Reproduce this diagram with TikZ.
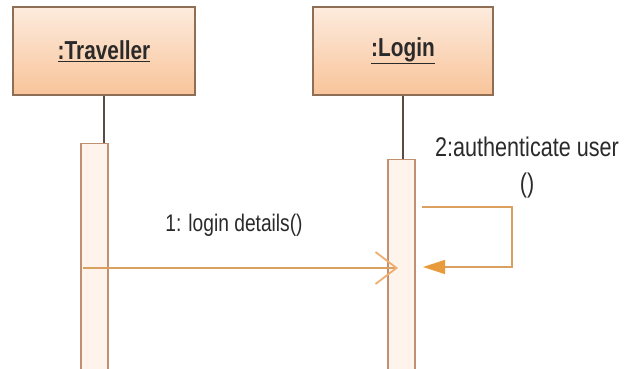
\documentclass[tikz,border=0pt]{standalone}
\usepackage{fontspec}
\setmainfont{Liberation Sans}[FakeStretch=0.8]
\usetikzlibrary{arrows.meta}
\definecolor{boxtop}{HTML}{FDEBDD}
\definecolor{boxbot}{HTML}{F8C49A}
\definecolor{boxline}{HTML}{8E6E55}
\definecolor{barfill}{HTML}{FEF4EC}
\definecolor{barline}{HTML}{C09070}
\definecolor{lifeline}{HTML}{5B4A3E}
\definecolor{msgline}{HTML}{D9A060}
\definecolor{arrowlite}{HTML}{EFAE6E}
\definecolor{arrowfill}{HTML}{E99B3C}
\definecolor{txt}{HTML}{2A2A2A}

\begin{document}
\begin{tikzpicture}[x=1pt,y=-1pt]
\tikzset{ObjStyle/.style =
	{draw = boxline,
		line width = 1.2pt,
		top color = boxtop,
		bottom color = boxbot,
		minimum width = 182pt,
		minimum height = 88pt,
		text = txt,
		font = \fontsize{26}{30}\selectfont\bfseries},
	BarStyle/.style = {draw = barline, fill = barfill, line width = 1.2pt,
		minimum width = 27pt, minimum height = 240pt, anchor = north},
	LifeStyle/.style = {draw = lifeline, line width = 1.2pt},
	MsgStyle/.style = {draw = msgline, line width = 1.3pt},
	LblStyle/.style = {text = txt, inner sep = 0pt}}
\useasboundingbox (0,0) rectangle (634,369);
% objects
\node[ObjStyle] (T) at (104,51) {\underline{:Traveller}};
\node[ObjStyle, minimum width = 180pt] (L) at (403,51) {\underline{:Login}};
% activations
\node[BarStyle] (TA) at (94.5,143) {};
\node[BarStyle] (LA) at (401.5,159) {};
\draw[LifeStyle] (T.south) -- (T.south |- TA.north);
\draw[LifeStyle] (L.south) -- (L.south |- LA.north);
% messages
\coordinate (M1s) at (83,268);
\coordinate (M1e) at (398,268);
\draw[MsgStyle, -{Straight Barb[length = 21pt, width = 32pt, line width = 1.8pt, color = arrowlite]}]
	(M1s) -- (M1e);
\node[LblStyle, font = \fontsize{24}{28}\selectfont] (M1) at (234,225) {1: login details()};
\coordinate (M2s) at (422,207);
\coordinate (M2e) at (423,267);
\draw[MsgStyle, -{Triangle[length = 22pt, width = 14pt, color = arrowfill]}]
	(M2s) -- ++(90,0) |- (M2e);
\node[LblStyle, align = center, font = \fontsize{27}{36}\selectfont, anchor = north]
	(M2) at (527,137) {2:authenticate user\\()};
\end{tikzpicture}
\end{document}
